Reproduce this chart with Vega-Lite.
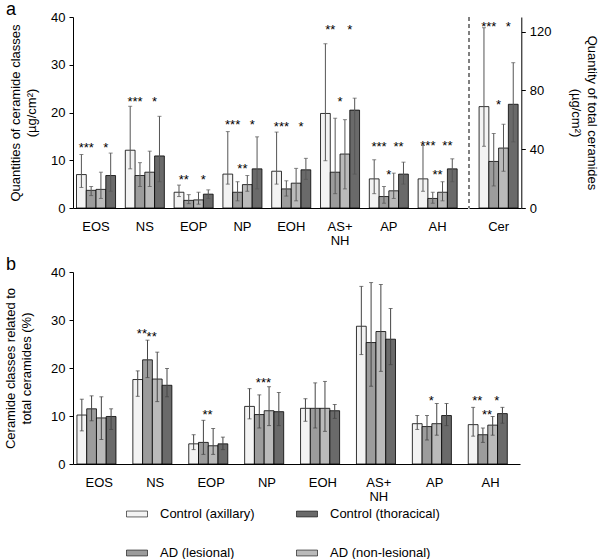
{
  "$schema": "https://vega.github.io/schema/vega-lite/v6.json",
  "padding": {"left": 4, "top": 1, "right": 4, "bottom": 4},
  "config": {
    "font": "Liberation Sans",
    "view": {"stroke": null},
    "axis": {"labelFont": "Liberation Sans", "titleFont": "Liberation Sans", "labelFontSize": 13, "titleFontSize": 13, "titleFontWeight": "normal", "labelColor": "#000", "titleColor": "#000", "domainColor": "#000", "tickColor": "#000", "grid": false},
    "title": {"font": "Liberation Sans", "fontSize": 18, "fontWeight": "normal", "anchor": "start", "frame": "group", "baseline": "alphabetic", "offset": -8, "color": "#000"},
    "legend": {"labelFont": "Liberation Sans", "labelFontSize": 13, "labelColor": "#000"}
  },
  "datasets": {
    "aBars": [
      {"group": "EOS", "cond": "Control (axillary)", "mean": 7.0, "lo": 4.3, "hi": 11.2},
      {"group": "EOS", "cond": "AD (lesional)", "mean": 3.7, "lo": 2.6, "hi": 4.5},
      {"group": "EOS", "cond": "AD (non-lesional)", "mean": 3.9, "lo": 2.0, "hi": 7.5},
      {"group": "EOS", "cond": "Control (thoracical)", "mean": 6.8, "lo": 3.5, "hi": 11.5},
      {"group": "NS", "cond": "Control (axillary)", "mean": 12.1, "lo": 8.2, "hi": 21.3},
      {"group": "NS", "cond": "AD (lesional)", "mean": 6.8, "lo": 4.5, "hi": 9.5},
      {"group": "NS", "cond": "AD (non-lesional)", "mean": 7.5, "lo": 4.5, "hi": 11.9},
      {"group": "NS", "cond": "Control (thoracical)", "mean": 10.9, "lo": 5.5, "hi": 19.2},
      {"group": "EOP", "cond": "Control (axillary)", "mean": 3.3, "lo": 2.4, "hi": 4.8},
      {"group": "EOP", "cond": "AD (lesional)", "mean": 1.6, "lo": 0.9, "hi": 2.8},
      {"group": "EOP", "cond": "AD (non-lesional)", "mean": 1.7, "lo": 0.8, "hi": 3.3},
      {"group": "EOP", "cond": "Control (thoracical)", "mean": 2.9, "lo": 2.0, "hi": 3.8},
      {"group": "NP", "cond": "Control (axillary)", "mean": 7.1, "lo": 5.0, "hi": 16.0},
      {"group": "NP", "cond": "AD (lesional)", "mean": 3.3, "lo": 1.5, "hi": 5.5},
      {"group": "NP", "cond": "AD (non-lesional)", "mean": 4.9, "lo": 3.5, "hi": 6.8},
      {"group": "NP", "cond": "Control (thoracical)", "mean": 8.2, "lo": 4.0, "hi": 14.9},
      {"group": "EOH", "cond": "Control (axillary)", "mean": 7.7, "lo": 5.0, "hi": 15.9},
      {"group": "EOH", "cond": "AD (lesional)", "mean": 4.0, "lo": 2.5, "hi": 5.7},
      {"group": "EOH", "cond": "AD (non-lesional)", "mean": 5.2, "lo": 1.5, "hi": 8.3},
      {"group": "EOH", "cond": "Control (thoracical)", "mean": 8.0, "lo": 6.0, "hi": 10.4},
      {"group": "AS+NH", "cond": "Control (axillary)", "mean": 19.8, "lo": 9.9, "hi": 34.4},
      {"group": "AS+NH", "cond": "AD (lesional)", "mean": 7.5, "lo": 3.0, "hi": 18.8},
      {"group": "AS+NH", "cond": "AD (non-lesional)", "mean": 11.3, "lo": 4.0, "hi": 18.5},
      {"group": "AS+NH", "cond": "Control (thoracical)", "mean": 20.5, "lo": 7.1, "hi": 23.0},
      {"group": "AP", "cond": "Control (axillary)", "mean": 6.1, "lo": 3.0, "hi": 10.1},
      {"group": "AP", "cond": "AD (lesional)", "mean": 2.4, "lo": 1.0, "hi": 4.5},
      {"group": "AP", "cond": "AD (non-lesional)", "mean": 3.6, "lo": 2.0, "hi": 7.3},
      {"group": "AP", "cond": "Control (thoracical)", "mean": 7.1, "lo": 5.0, "hi": 9.6},
      {"group": "AH", "cond": "Control (axillary)", "mean": 6.1, "lo": 3.5, "hi": 13.1},
      {"group": "AH", "cond": "AD (lesional)", "mean": 2.0, "lo": 1.0, "hi": 3.3},
      {"group": "AH", "cond": "AD (non-lesional)", "mean": 3.3, "lo": 1.5, "hi": 5.5},
      {"group": "AH", "cond": "Control (thoracical)", "mean": 8.2, "lo": 5.5, "hi": 10.3}
    ],
    "aStars": [
      {"group": "EOS", "cond": "AD (lesional)", "y": 13.4, "label": "***"},
      {"group": "EOS", "cond": "Control (thoracical)", "y": 13.4, "label": "*"},
      {"group": "NS", "cond": "AD (lesional)", "y": 23.0, "label": "***"},
      {"group": "NS", "cond": "Control (thoracical)", "y": 23.0, "label": "*"},
      {"group": "EOP", "cond": "AD (lesional)", "y": 6.8, "label": "**"},
      {"group": "EOP", "cond": "Control (thoracical)", "y": 6.8, "label": "*"},
      {"group": "NP", "cond": "AD (lesional)", "y": 18.2, "label": "***"},
      {"group": "NP", "cond": "Control (thoracical)", "y": 18.2, "label": "*"},
      {"group": "NP", "cond": "AD (non-lesional)", "y": 9.0, "label": "**"},
      {"group": "EOH", "cond": "AD (lesional)", "y": 17.8, "label": "***"},
      {"group": "EOH", "cond": "Control (thoracical)", "y": 17.8, "label": "*"},
      {"group": "AS+NH", "cond": "AD (lesional)", "y": 38.2, "label": "**"},
      {"group": "AS+NH", "cond": "Control (thoracical)", "y": 38.2, "label": "*"},
      {"group": "AS+NH", "cond": "AD (non-lesional)", "y": 23.0, "label": "*"},
      {"group": "AP", "cond": "AD (lesional)", "y": 13.6, "label": "***"},
      {"group": "AP", "cond": "Control (thoracical)", "y": 13.6, "label": "**"},
      {"group": "AP", "cond": "AD (non-lesional)", "y": 7.7, "label": "*"},
      {"group": "AH", "cond": "AD (lesional)", "y": 13.8, "label": "***"},
      {"group": "AH", "cond": "Control (thoracical)", "y": 13.8, "label": "**"},
      {"group": "AH", "cond": "AD (non-lesional)", "y": 7.7, "label": "**"}
    ],
    "cerBars": [
      {"group": "Cer", "cond": "Control (axillary)", "mean": 69.0, "lo": 42.0, "hi": 122.7},
      {"group": "Cer", "cond": "AD (lesional)", "mean": 31.7, "lo": 15.0, "hi": 50.7},
      {"group": "Cer", "cond": "AD (non-lesional)", "mean": 40.8, "lo": 25.0, "hi": 57.0},
      {"group": "Cer", "cond": "Control (thoracical)", "mean": 70.6, "lo": 45.0, "hi": 98.9}
    ],
    "cerStars": [
      {"group": "Cer", "cond": "AD (lesional)", "y": 126, "label": "***"},
      {"group": "Cer", "cond": "Control (thoracical)", "y": 126, "label": "*"},
      {"group": "Cer", "cond": "AD (non-lesional)", "y": 73, "label": "*"}
    ],
    "bBars": [
      {"group": "EOS", "cond": "Control (axillary)", "mean": 10.2, "lo": 6.9, "hi": 13.5},
      {"group": "EOS", "cond": "AD (lesional)", "mean": 11.5, "lo": 9.0, "hi": 14.2},
      {"group": "EOS", "cond": "AD (non-lesional)", "mean": 9.6, "lo": 5.1, "hi": 14.0},
      {"group": "EOS", "cond": "Control (thoracical)", "mean": 9.9, "lo": 7.2, "hi": 11.5},
      {"group": "NS", "cond": "Control (axillary)", "mean": 17.6, "lo": 14.1, "hi": 19.4},
      {"group": "NS", "cond": "AD (lesional)", "mean": 21.7, "lo": 18.0, "hi": 25.8},
      {"group": "NS", "cond": "AD (non-lesional)", "mean": 17.7, "lo": 13.0, "hi": 23.3},
      {"group": "NS", "cond": "Control (thoracical)", "mean": 16.4, "lo": 14.0, "hi": 19.9},
      {"group": "EOP", "cond": "Control (axillary)", "mean": 4.2, "lo": 3.0, "hi": 6.1},
      {"group": "EOP", "cond": "AD (lesional)", "mean": 4.5, "lo": 2.0, "hi": 9.1},
      {"group": "EOP", "cond": "AD (non-lesional)", "mean": 3.8, "lo": 2.0, "hi": 7.4},
      {"group": "EOP", "cond": "Control (thoracical)", "mean": 4.2, "lo": 3.0, "hi": 5.6},
      {"group": "NP", "cond": "Control (axillary)", "mean": 12.0, "lo": 9.4, "hi": 15.7},
      {"group": "NP", "cond": "AD (lesional)", "mean": 10.3, "lo": 7.5, "hi": 14.4},
      {"group": "NP", "cond": "AD (non-lesional)", "mean": 11.1, "lo": 8.0, "hi": 16.1},
      {"group": "NP", "cond": "Control (thoracical)", "mean": 10.9, "lo": 8.0, "hi": 14.9},
      {"group": "EOH", "cond": "Control (axillary)", "mean": 11.6, "lo": 8.9, "hi": 13.6},
      {"group": "EOH", "cond": "AD (lesional)", "mean": 11.6, "lo": 7.5, "hi": 16.9},
      {"group": "EOH", "cond": "AD (non-lesional)", "mean": 11.6, "lo": 6.8, "hi": 17.2},
      {"group": "EOH", "cond": "Control (thoracical)", "mean": 11.1, "lo": 9.5, "hi": 12.4},
      {"group": "AS+NH", "cond": "Control (axillary)", "mean": 28.7, "lo": 22.8, "hi": 37.0},
      {"group": "AS+NH", "cond": "AD (lesional)", "mean": 25.3, "lo": 16.2, "hi": 37.8},
      {"group": "AS+NH", "cond": "AD (non-lesional)", "mean": 27.6, "lo": 19.3, "hi": 37.4},
      {"group": "AS+NH", "cond": "Control (thoracical)", "mean": 26.0, "lo": 20.7, "hi": 32.4},
      {"group": "AP", "cond": "Control (axillary)", "mean": 8.4, "lo": 7.2, "hi": 10.1},
      {"group": "AP", "cond": "AD (lesional)", "mean": 7.8, "lo": 5.0, "hi": 10.1},
      {"group": "AP", "cond": "AD (non-lesional)", "mean": 8.4, "lo": 6.0, "hi": 12.6},
      {"group": "AP", "cond": "Control (thoracical)", "mean": 10.1, "lo": 8.0, "hi": 12.6},
      {"group": "AH", "cond": "Control (axillary)", "mean": 8.2, "lo": 5.8, "hi": 11.8},
      {"group": "AH", "cond": "AD (lesional)", "mean": 6.1, "lo": 4.5, "hi": 7.5},
      {"group": "AH", "cond": "AD (non-lesional)", "mean": 8.1, "lo": 6.0, "hi": 9.9},
      {"group": "AH", "cond": "Control (thoracical)", "mean": 10.5, "lo": 8.5, "hi": 11.8}
    ],
    "bStars": [
      {"group": "NS", "cond": "AD (lesional)", "y": 28.0, "label": "**"},
      {"group": "NS", "cond": "AD (non-lesional)", "y": 27.3, "label": "**"},
      {"group": "EOP", "cond": "AD (non-lesional)", "y": 11.1, "label": "**"},
      {"group": "NP", "cond": "AD (non-lesional)", "y": 17.8, "label": "***"},
      {"group": "AP", "cond": "AD (non-lesional)", "y": 14.0, "label": "*"},
      {"group": "AH", "cond": "AD (lesional)", "y": 14.0, "label": "**"},
      {"group": "AH", "cond": "Control (thoracical)", "y": 14.0, "label": "*"},
      {"group": "AH", "cond": "AD (non-lesional)", "y": 11.0, "label": "**"}
    ]
  },
  "spacing": 9,
  "vconcat": [
    {
      "spacing": 0,
      "hconcat": [
        {
          "width": 394.7,
          "height": 191,
          "title": {"text": "a", "dx": -67},
          "encoding": {
            "x": {"field": "group", "type": "nominal", "sort": ["EOS", "NS", "EOP", "NP", "EOH", "AS+NH", "AP", "AH"],
              "scale": {"paddingInner": 0.2, "paddingOuter": 0.144, "align": 0.25},
              "axis": {"title": null, "ticks": false, "tickSize": 0, "labelAngle": 0, "labelPadding": 18, "labelBaseline": "middle", "labelLineHeight": 14,
                "labelExpr": "datum.label == 'AS+NH' ? ['AS+', 'NH'] : datum.label"}},
            "xOffset": {"field": "cond", "type": "nominal", "sort": ["Control (axillary)", "AD (lesional)", "AD (non-lesional)", "Control (thoracical)"], "scale": {"paddingInner": 0, "paddingOuter": 0}}
          },
          "layer": [
            {
              "data": {"name": "aBars"},
              "mark": {"type": "bar", "stroke": "#000", "strokeWidth": 0.8},
              "encoding": {
                "y": {"field": "mean", "type": "quantitative", "scale": {"domain": [0, 40], "nice": false},
                  "axis": {"orient": "left", "values": [0, 5, 10, 15, 20, 25, 30, 35, 40], "tickSize": 4, "labelPadding": 4,
                    "title": ["Quantities of ceramide classes", "(µg/cm²)"], "titlePadding": 12, "titleLineHeight": 16}},
                "color": {"field": "cond", "type": "nominal",
                  "scale": {"domain": ["Control (axillary)", "Control (thoracical)", "AD (lesional)", "AD (non-lesional)"], "range": ["#f3f3f3", "#6a6a6a", "#9c9c9c", "#bababa"]},
                  "legend": {"orient": "none", "legendX": 53, "legendY": 486, "columns": 2, "direction": "horizontal", "title": null, "padding": 0,
                    "symbolType": "M-1,-0.28H1V0.28H-1Z", "symbolSize": 441, "symbolStrokeColor": "#000", "symbolStrokeWidth": 0.6,
                    "labelOffset": 12, "rowPadding": 21, "columnPadding": 40, "labelFontSize": 13}}
              }
            },
            {
              "data": {"name": "aBars"},
              "mark": {"type": "rule", "color": "#555", "strokeWidth": 1},
              "encoding": {"y": {"field": "lo", "type": "quantitative"}, "y2": {"field": "hi"}}
            },
            {
              "data": {"name": "aBars"},
              "mark": {"type": "tick", "color": "#555", "size": 4, "thickness": 1},
              "encoding": {"y": {"field": "hi", "type": "quantitative"}}
            },
            {
              "data": {"name": "aBars"},
              "mark": {"type": "tick", "color": "#555", "size": 4, "thickness": 1},
              "encoding": {"y": {"field": "lo", "type": "quantitative"}}
            },
            {
              "data": {"name": "aStars"},
              "mark": {"type": "text", "fontSize": 13, "baseline": "middle", "dx": -4.9, "dy": 4, "color": "#000"},
              "encoding": {"y": {"field": "y", "type": "quantitative"}, "text": {"field": "label"}}
            }
          ]
        },
        {
          "width": 52.3,
          "height": 191,
          "resolve": {"scale": {"x": "independent"}},
          "layer": [
            {
              "encoding": {
                "x": {"field": "group", "type": "nominal",
                  "scale": {"paddingInner": 0.2, "paddingOuter": 0.136, "align": 0.76},
                  "axis": {"title": null, "ticks": false, "tickSize": 0, "labelAngle": 0, "labelPadding": 18, "labelBaseline": "middle"}},
                "xOffset": {"field": "cond", "type": "nominal", "sort": ["Control (axillary)", "AD (lesional)", "AD (non-lesional)", "Control (thoracical)"], "scale": {"paddingInner": 0, "paddingOuter": 0}}
              },
              "layer": [
                {
                  "data": {"name": "cerBars"},
                  "mark": {"type": "bar", "stroke": "#000", "strokeWidth": 0.8},
                  "encoding": {
                    "y": {"field": "mean", "type": "quantitative", "scale": {"domain": [0, 130], "nice": false},
                      "axis": {"orient": "right", "values": [0, 20, 40, 60, 80, 100, 120], "tickSize": 4, "labelPadding": 4,
                        "title": ["Quantity of total ceramides", "(µg/cm²)"], "titlePadding": 18, "titleLineHeight": 16}},
                    "color": {"field": "cond", "type": "nominal", "scale": {"domain": ["Control (axillary)", "Control (thoracical)", "AD (lesional)", "AD (non-lesional)"]}}
                  }
                },
                {
                  "data": {"name": "cerBars"},
                  "mark": {"type": "rule", "color": "#555", "strokeWidth": 1},
                  "encoding": {"y": {"field": "lo", "type": "quantitative"}, "y2": {"field": "hi"}}
                },
                {
                  "data": {"name": "cerBars"},
                  "mark": {"type": "tick", "color": "#555", "size": 4, "thickness": 1},
                  "encoding": {"y": {"field": "hi", "type": "quantitative"}}
                },
                {
                  "data": {"name": "cerBars"},
                  "mark": {"type": "tick", "color": "#555", "size": 4, "thickness": 1},
                  "encoding": {"y": {"field": "lo", "type": "quantitative"}}
                },
                {
                  "data": {"name": "cerStars"},
                  "mark": {"type": "text", "fontSize": 13, "baseline": "middle", "dx": -4.9, "dy": 4, "color": "#000"},
                  "encoding": {"y": {"field": "y", "type": "quantitative"}, "text": {"field": "label"}}
                }
              ]
            },
            {
              "data": {"values": [{"pos": 0}]},
              "mark": {"type": "rule", "color": "#000", "strokeWidth": 1, "strokeDash": [4, 3]},
              "encoding": {"x": {"field": "pos", "type": "quantitative", "scale": {"domain": [0, 1]}, "axis": null}}
            }
          ]
        }
      ]
    },
    {
      "width": 447,
      "height": 192,
      "title": {"text": "b", "dx": -67},
      "encoding": {
        "x": {"field": "group", "type": "nominal", "sort": ["EOS", "NS", "EOP", "NP", "EOH", "AS+NH", "AP", "AH"],
          "scale": {"paddingInner": 0.2, "paddingOuter": 0.098, "align": 0.36},
          "axis": {"title": null, "ticks": false, "tickSize": 0, "labelAngle": 0, "labelPadding": 18, "labelBaseline": "middle", "labelLineHeight": 14,
            "labelExpr": "datum.label == 'AS+NH' ? ['AS+', 'NH'] : datum.label"}},
        "xOffset": {"field": "cond", "type": "nominal", "sort": ["Control (axillary)", "AD (lesional)", "AD (non-lesional)", "Control (thoracical)"], "scale": {"paddingInner": 0, "paddingOuter": 0}}
      },
      "layer": [
        {
          "data": {"name": "bBars"},
          "mark": {"type": "bar", "stroke": "#000", "strokeWidth": 0.8},
          "encoding": {
            "y": {"field": "mean", "type": "quantitative", "scale": {"domain": [0, 40], "nice": false},
              "axis": {"orient": "left", "values": [0, 5, 10, 15, 20, 25, 30, 35, 40], "tickSize": 4, "labelPadding": 4,
                "title": ["Ceramide classes related to", "total ceramides (%)"], "titlePadding": 17, "titleLineHeight": 16}},
            "color": {"field": "cond", "type": "nominal", "scale": {"domain": ["Control (axillary)", "Control (thoracical)", "AD (lesional)", "AD (non-lesional)"]}}
          }
        },
        {
          "data": {"name": "bBars"},
          "mark": {"type": "rule", "color": "#444", "strokeWidth": 1},
          "encoding": {"y": {"field": "lo", "type": "quantitative"}, "y2": {"field": "hi"}}
        },
        {
          "data": {"name": "bBars"},
          "mark": {"type": "tick", "color": "#444", "size": 4, "thickness": 1},
          "encoding": {"y": {"field": "hi", "type": "quantitative"}}
        },
        {
          "data": {"name": "bBars"},
          "mark": {"type": "tick", "color": "#444", "size": 4, "thickness": 1},
          "encoding": {"y": {"field": "lo", "type": "quantitative"}}
        },
        {
          "data": {"name": "bStars"},
          "mark": {"type": "text", "fontSize": 13, "baseline": "middle", "dx": -5.6, "dy": 4, "color": "#000"},
          "encoding": {"y": {"field": "y", "type": "quantitative"}, "text": {"field": "label"}}
        }
      ]
    }
  ]
}
